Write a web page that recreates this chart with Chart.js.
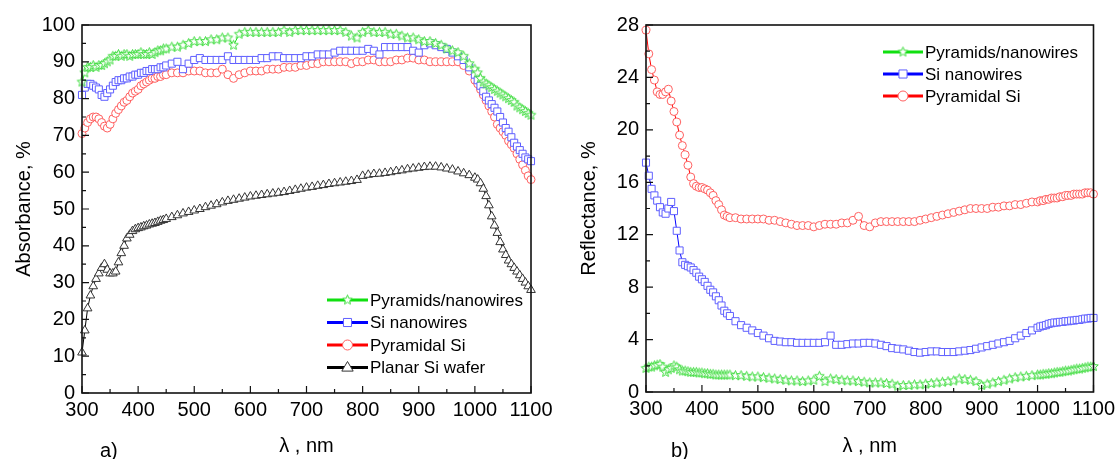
<!DOCTYPE html>
<html>
<head>
<meta charset="utf-8">
<script src="https://cdn.jsdelivr.net/npm/chart.js@4.4.1/dist/chart.umd.min.js"></script>
<style>
  html, body { margin: 0; padding: 0; background: #fff; }
  #wrap { position: relative; width: 1120px; height: 459px; overflow: hidden; }
  canvas { position: absolute; top: 0; }
</style>
</head>
<body>
<div id="wrap">
  <canvas id="absChart" width="560" height="459" style="left:0"></canvas>
  <canvas id="refChart" width="560" height="459" style="left:560px"></canvas>
</div>
<script>
/* ── data (nm / %) ─────────────────────────────────────────────── */

const wavelengths = [
  300,305,310,315,320,325,330,335,340,345, 350,355,360,365,370,375,380,385,390,395, 400,405,410,415,420,425,430,435,440,445, 450,
  460,470,480,490,500, 510,520,530,540,550,560,570,580,590,600, 610,620,630,640,650,660,670,680,690,700,
  710,720,730,740,750,760,770,780,790,800, 810,820,830,840,850,860,870,880,890,900, 910,920,930,940,950,960,970,980,990,
  1000,1005,1010,1015,1020,1025,1030,1035,1040,1045, 1050,1055,1060,1065,1070,1075,1080,1085,1090,1095, 1100
];

const xTicks = [300, 400, 500, 600, 700, 800, 900, 1000, 1100];
const absTicks = [0, 10, 20, 30, 40, 50, 60, 70, 80, 90, 100];
const refTicks = [0, 4, 8, 12, 16, 20, 24, 28];

// a) absorbance
const absPyrNw = [
  84.5,87,88.5,88.5,89,88.5,89,89,89.5,90, 90.5,91.5,91.5,92,91.5,92,92,91.5,92,92, 92,92.5,92,92,92.5,92,92.5,93,93,93.5, 93.5,
  94,94,94.5,95,95.5, 95.5,95.5,96,96,96.5,96.5,94.5,97.5,98,98, 98,98,98,98,98,98.5,98,98.5,98.5,98.5,
  98.5,98.5,98.5,98.5,98.5,98.5,98,97,96.5,98, 98.5,98,98,98,97.5,97.5,97,96.5,96.5,96, 95.5,95.5,95,94.5,93.5,93,92.5,91.5,89.5,
  88,87,85.5,84.5,84,83.5,83,82.5,82,81.5, 81,80.5,80,79.5,79,78,77.5,77,76.5,76, 75.5
];
const absSiNw = [
  81,83,84,84,83.5,83,82.5,81,80.5,81.5, 82.5,83.5,84.5,85,85,85.5,85.5,86,86,86.5, 86.5,87,87,87.5,87.5,88,88,88,88.5,88.5, 89,
  89.5,90,88,89.5,90.5, 91,90.5,90.5,90.5,90.5,91.5,90.5,90.5,90.5,90.5, 90.5,91,91,91.5,91.5,91,91,91,91,91.5,
  91.5,92,92,92,92.5,93,93,93,93,93, 93.5,93,92,94,94,94,94,94,93,92.5, 94.5,95,94.5,94,93.5,92.5,91.5,90.5,88.5,
  86.5,85,83.5,82,80.5,79.5,78.5,77.5,76.5,75, 73.5,72,71,69.5,68,67,66,65,64,63.5, 63
];
const absPyrSi = [
  70.5,72,73.5,74.5,75,75,74.5,73.5,72.5,72, 73,74.5,76,77,78,79,79.5,80.5,81.5,82, 82.5,83.5,84,84.5,85,85.5,85.5,86,86,86.5, 86.5,
  87,87,87,87.5,87.5, 87.5,87,87,87,88,86.5,85.5,86.5,87,87.5, 87.5,87.5,88,88,88,88.5,88.5,88.5,89,89,
  89.5,89.5,90,90,90,90,90,89.5,90,90, 90.5,90.5,90,90,90,90.5,90.5,91,91,90.5, 90.5,90,90,90,90,90,90,89,87.5,
  85,84,82.5,81,79.5,78,76.5,75,73,72, 71,70,68.5,67.5,66.5,65,63.5,62,60.5,59, 58
];
const absPlanar = [
  11,17,23,26.5,29,31,32.5,34,35,33.5, 32.5,32.5,33,35.5,38,40,42,43,44,44.5, 44.8,45,45.3,45.5,45.8,46,46.2,46.5,46.8,47, 47.3,
  47.8,48.3,48.8,49.2,49.6, 50,50.5,50.9,51.3,51.8,52.2,52.5,52.8,53.1,53.4, 53.6,53.8,54,54.2,54.4,54.6,54.9,55.2,55.5,55.8,
  56,56.3,56.5,56.8,57,57.2,57.4,57.6,57.9,59, 59.3,59.5,59.6,59.8,60,60.3,60.5,60.8,61,61.2, 61.4,61.5,61.5,61.3,61,60.7,60.2,59.7,59.2,
  58.5,58,57,55.5,53.5,51,48,45.5,43.5,41, 39,37.5,36,35,34,33,32,31,30,29, 28
];

// b) reflectance
const refPyrNw = [
  1.8,1.9,1.9,2,2.05,2.1,1.9,1.5,1.7,1.8, 2,1.9,1.7,1.6,1.6,1.55,1.5,1.5,1.5,1.45, 1.45,1.4,1.4,1.35,1.35,1.3,1.3,1.3,1.3,1.3, 1.3,
  1.25,1.25,1.2,1.15,1.15, 1.1,1.05,1,0.95,0.9,0.85,0.85,0.8,0.85,0.9, 1.2,0.8,1,0.95,0.9,0.85,0.85,0.8,0.75,0.7,
  0.7,0.7,0.65,0.6,0.45,0.5,0.5,0.55,0.55,0.6, 0.65,0.7,0.75,0.8,0.85,1,0.95,0.9,0.8,0.5, 0.6,0.7,0.8,0.9,1,1.1,1.15,1.2,1.25,
  1.3,1.3,1.35,1.35,1.4,1.4,1.45,1.5,1.5,1.55, 1.6,1.6,1.65,1.7,1.75,1.75,1.8,1.85,1.9,1.9, 1.95
];
const refSiNw = [
  17.5,16.5,15.5,15,14.6,14.1,13.7,13.6,14,14.5, 13.8,12.3,10.8,9.9,9.7,9.6,9.5,9.3,9.1,8.8, 8.6,8.4,8.1,7.8,7.6,7.3,7,6.6,6.2,6, 5.8,
  5.4,5.1,4.9,4.7,4.5, 4.3,4.1,3.9,3.85,3.8,3.8,3.75,3.75,3.75,3.75, 3.75,3.8,4.3,3.6,3.6,3.65,3.7,3.7,3.75,3.75,
  3.7,3.6,3.5,3.35,3.3,3.25,3.15,3.05,3,3.05, 3.1,3.1,3.05,3.05,3.05,3.1,3.15,3.2,3.3,3.4, 3.5,3.6,3.7,3.8,3.9,4.1,4.3,4.5,4.7,
  4.9,5,5.05,5.1,5.2,5.25,5.3,5.3,5.35,5.35, 5.4,5.4,5.45,5.45,5.5,5.5,5.55,5.6,5.6,5.65, 5.65
];
const refPyrSi = [
  27.6,25.8,24.6,23.8,22.9,22.7,22.7,22.9,23.1,22.2, 21.4,20.6,19.6,18.8,18.1,17.3,16.4,15.9,15.7,15.6, 15.6,15.5,15.4,15.2,15,14.6,14.3,13.9,13.5,13.4, 13.3,
  13.3,13.2,13.2,13.2,13.2, 13.2,13.1,13.1,13,12.9,12.8,12.7,12.7,12.7,12.6, 12.7,12.8,12.8,12.8,12.9,12.9,13.1,13.4,12.7,12.6,
  12.9,13,13,13,13,13,13,13,13.1,13.2, 13.3,13.4,13.5,13.6,13.7,13.8,13.9,14,14,14, 14,14.1,14.1,14.2,14.2,14.3,14.3,14.4,14.5,
  14.5,14.6,14.6,14.7,14.7,14.8,14.8,14.8,14.9,14.9, 15,15,15,15.1,15.1,15.1,15.1,15.2,15.2,15.2, 15.1
];

/* ── styling ───────────────────────────────────────────────────── */

const FONT = 'Liberation Sans, Arial, sans-serif';
Chart.defaults.font.family = FONT;
Chart.defaults.color = '#000';

// hollow five-point star (Origin style), used as a point image
function starImage(color, r) {
  const s = Math.ceil(r * 2 + 3);
  const c = document.createElement('canvas');
  c.width = c.height = s;
  const g = c.getContext('2d');
  g.beginPath();
  for (let k = 0; k < 10; k++) {
    const rad = k % 2 ? r * 0.45 : r;
    const ang = -Math.PI / 2 + k * Math.PI / 5;
    g.lineTo(s / 2 + rad * Math.cos(ang), s / 2 + rad * Math.sin(ang));
  }
  g.closePath();
  g.fillStyle = '#fff';
  g.fill();
  g.strokeStyle = color;
  g.lineWidth = 1;
  g.stroke();
  return c;
}

const STYLE = {
  green: { line: '#10e010', mark: 'rgb(60,220,60)', shape: starImage('rgb(60,220,60)', 5), r: 5 },
  blue:  { line: '#0000ff', mark: 'rgb(95,95,255)', shape: 'rect', r: 5 },
  red:   { line: '#ff0000', mark: 'rgb(255,95,95)', shape: 'circle', r: 4 },
  black: { line: '#000000', mark: '#333333', shape: 'triangle', r: 5 },
};

function series(label, values, st) {
  return {
    label,
    data: wavelengths.map((w, i) => ({ x: w, y: values[i] })),
    borderColor: st.line,
    borderWidth: 1,
    pointStyle: st.shape,
    pointRadius: st.r,
    pointBorderColor: st.mark,
    pointBackgroundColor: '#fff',
    pointBorderWidth: 1,
    tension: 0,
    clip: 6,
  };
}

// legend marker: same shapes as the plotted points, a touch larger
function legendMarker(ctx, ds, cx, cy) {
  if (typeof ds.pointStyle !== 'string') {
    const img = ds.pointStyle;
    ctx.drawImage(img, cx - img.width / 2, cy - img.height / 2);
    return;
  }
  ctx.fillStyle = '#fff';
  ctx.strokeStyle = ds.pointBorderColor;
  ctx.lineWidth = 1;
  ctx.beginPath();
  if (ds.pointStyle === 'rect') {
    const s = ds.pointRadius * Math.SQRT1_2 + 0.5;
    ctx.rect(cx - s, cy - s, 2 * s, 2 * s);
  } else if (ds.pointStyle === 'circle') {
    ctx.arc(cx, cy, ds.pointRadius + 1, 0, Math.PI * 2);
  } else {
    const r = ds.pointRadius + 1;
    ctx.moveTo(cx, cy - r);
    ctx.lineTo(cx + r * 0.95, cy + r * 0.6);
    ctx.lineTo(cx - r * 0.95, cy + r * 0.6);
    ctx.closePath();
  }
  ctx.fill();
  ctx.stroke();
}

// inward ticks, closed frame, in-plot legend, panel tag
const decor = {
  id: 'decor',
  afterDatasetsDraw(chart, args, o) {
    const { ctx, chartArea: a, scales: { x, y } } = chart;
    ctx.save();
    ctx.strokeStyle = '#111';
    ctx.lineWidth = 1.2;
    ctx.beginPath();
    o.xTicks.forEach((v, i) => {
      const px = x.getPixelForValue(v);
      ctx.moveTo(px, a.bottom); ctx.lineTo(px, a.bottom - 7);
      if (i < o.xTicks.length - 1) {
        const m = x.getPixelForValue((v + o.xTicks[i + 1]) / 2);
        ctx.moveTo(m, a.bottom); ctx.lineTo(m, a.bottom - 4);
      }
    });
    o.yTicks.forEach((v, i) => {
      const py = y.getPixelForValue(v);
      ctx.moveTo(a.left, py); ctx.lineTo(a.left + 7, py);
      if (i < o.yTicks.length - 1) {
        const m = y.getPixelForValue((v + o.yTicks[i + 1]) / 2);
        ctx.moveTo(a.left, m); ctx.lineTo(a.left + 4, m);
      }
    });
    ctx.stroke();
    ctx.lineWidth = 1.6;
    ctx.strokeRect(a.left, a.top, a.right - a.left, a.bottom - a.top);

    // legend
    ctx.font = `17px ${FONT}`;
    ctx.textBaseline = 'middle';
    ctx.textAlign = 'left';
    chart.data.datasets.forEach((ds, i) => {
      const ly = o.legend.y + i * o.legend.gap;
      ctx.strokeStyle = ds.borderColor;
      ctx.lineWidth = 3;
      ctx.beginPath();
      ctx.moveTo(o.legend.x0, ly); ctx.lineTo(o.legend.x1, ly);
      ctx.stroke();
      legendMarker(ctx, ds, (o.legend.x0 + o.legend.x1) / 2, ly);
      ctx.fillStyle = '#000';
      ctx.fillText(ds.label, o.legend.x1 + 2, ly + 1);
    });

    ctx.font = `20px ${FONT}`;
    ctx.fillText(o.tag.text, o.tag.x, o.tag.y);
    ctx.restore();
  },
};

function makeChart(id, cfg) {
  const tickFont = { family: FONT, size: 20 };
  return new Chart(document.getElementById(id), {
    type: 'line',
    data: { datasets: cfg.datasets },
    options: {
      responsive: false,
      animation: false,
      events: [],
      layout: { padding: { left: 0, right: cfg.padRight, top: 25, bottom: 0 } },
      plugins: {
        legend: { display: false },
        tooltip: { enabled: false },
        decor: { xTicks, yTicks: cfg.yTicks, legend: cfg.legend, tag: cfg.tag },
      },
      scales: {
        x: {
          type: 'linear', min: 300, max: 1100,
          afterBuildTicks: (s) => { s.ticks = xTicks.map((v) => ({ value: v })); },
          afterFit: (s) => { s.height = cfg.xHeight; },
          grid: { display: false, drawTicks: false },
          border: { display: false },
          ticks: { padding: 5, color: '#000', font: tickFont, maxRotation: 0, autoSkip: false, callback: (v) => String(v) },
          title: { display: true, text: 'λ , nm', color: '#000', font: tickFont, padding: { top: 0, bottom: 1 } },
        },
        y: {
          type: 'linear', min: 0, max: cfg.yMax,
          afterBuildTicks: (s) => { s.ticks = cfg.yTicks.map((v) => ({ value: v })); },
          afterFit: (s) => { s.width = cfg.yWidth; },
          grid: { display: false, drawTicks: false },
          border: { display: false },
          ticks: { padding: 7, color: '#000', font: tickFont, callback: (v) => String(v) },
          title: { display: true, text: cfg.yTitle, color: '#000', font: tickFont, padding: { top: cfg.yTitlePad, bottom: 0 } },
        },
      },
    },
    plugins: [decor],
  });
}

makeChart('absChart', {
  datasets: [
    series('Pyramids/nanowires', absPyrNw, STYLE.green),
    series('Si nanowires', absSiNw, STYLE.blue),
    series('Pyramidal Si', absPyrSi, STYLE.red),
    series('Planar Si wafer', absPlanar, STYLE.black),
  ],
  yMax: 100, yTicks: absTicks, yTitle: 'Absorbance, %',
  yWidth: 82, yTitlePad: 12, padRight: 29, xHeight: 66,
  legend: { x0: 327, x1: 368, y: 300, gap: 22.5 },
  tag: { text: 'a)', x: 100, y: 451 },
});

makeChart('refChart', {
  datasets: [
    series('Pyramids/nanowires', refPyrNw, STYLE.green),
    series('Si nanowires', refSiNw, STYLE.blue),
    series('Pyramidal Si', refPyrSi, STYLE.red),
  ],
  yMax: 28, yTicks: refTicks, yTitle: 'Reflectance, %',
  yWidth: 86, yTitlePad: 17, padRight: 25, xHeight: 67,
  legend: { x0: 323, x1: 363, y: 52, gap: 22 },
  tag: { text: 'b)', x: 111, y: 451 },
});
</script>
</body>
</html>
